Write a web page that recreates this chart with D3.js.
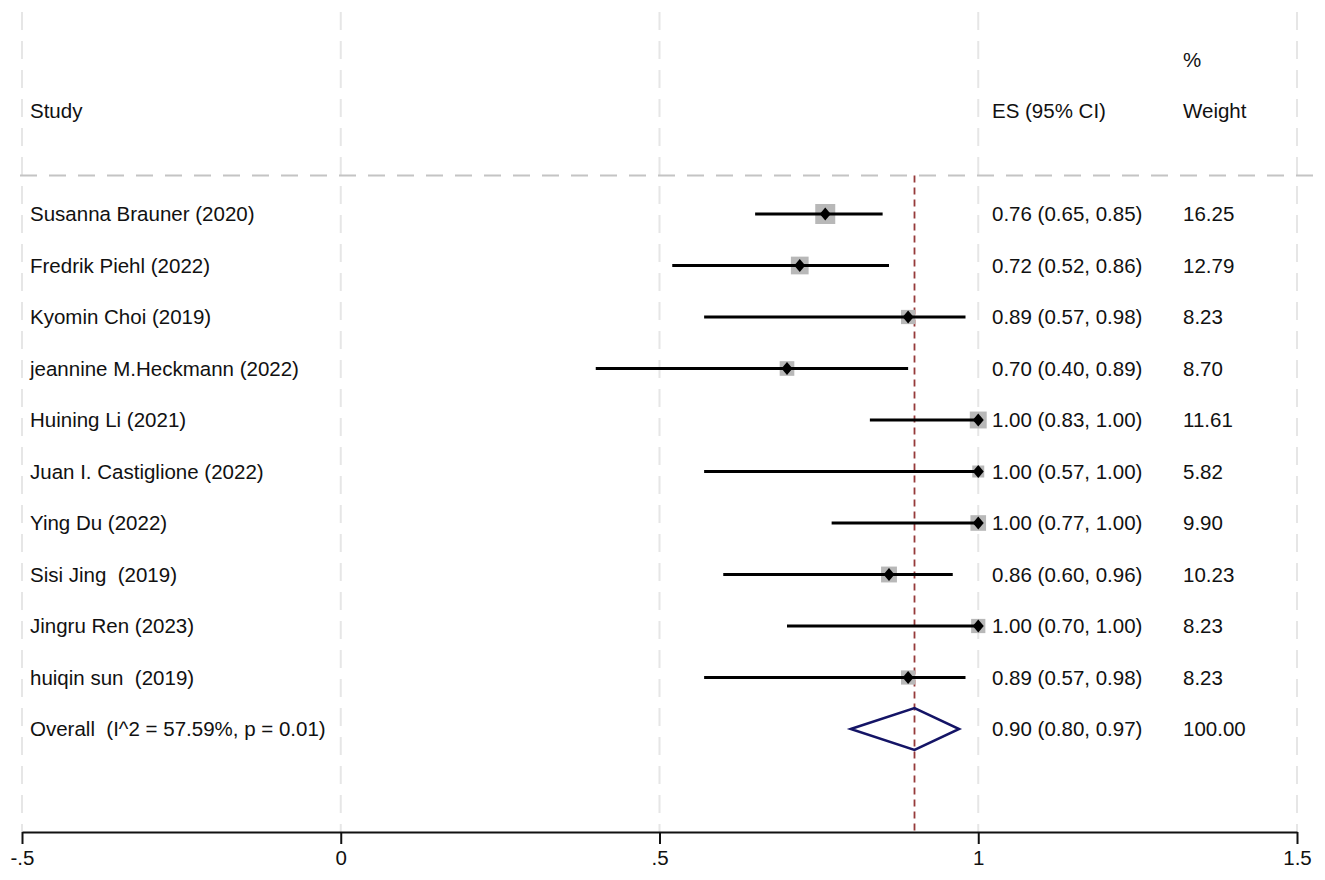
<!DOCTYPE html>
<html>
<head>
<meta charset="utf-8">
<script src="https://cdn.jsdelivr.net/npm/d3@7"></script>
<style>
    body { margin: 0; background: #fff; }
    text { font-family: "Liberation Sans", Arial, sans-serif; fill: #111; white-space: pre; }
</style>
</head>
<body>
<div id="chart"></div>
<script>
var studies = [
    "Susanna Brauner (2020)",
    "Fredrik Piehl (2022)",
    "Kyomin Choi (2019)",
    "jeannine M.Heckmann (2022)",
    "Huining Li (2021)",
    "Juan I. Castiglione (2022)",
    "Ying Du (2022)",
    "Sisi Jing  (2019)",
    "Jingru Ren (2023)",
    "huiqin sun  (2019)"
];
var es = [0.76, 0.72, 0.89, 0.70, 1.00, 1.00, 1.00, 0.86, 1.00, 0.89];
var lower = [0.65, 0.52, 0.57, 0.40, 0.83, 0.57, 0.77, 0.60, 0.70, 0.57];
var upper = [0.85, 0.86, 0.98, 0.89, 1.00, 1.00, 1.00, 0.96, 1.00, 0.98];
var weights = [16.25, 12.79, 8.23, 8.70, 11.61, 5.82, 9.90, 10.23, 8.23, 8.23];

var overallLabel = "Overall  (I^2 = 57.59%, p = 0.01)";
var overall = { es: 0.90, lower: 0.80, upper: 0.97, weight: 100.00 };

var xTicks = [-0.5, 0, 0.5, 1, 1.5];
var xTickLabels = ["-.5", "0", ".5", "1", "1.5"];

var width = 1325,
    height = 880;

var svg = d3.select('#chart')
    .append('svg')
    .attr('width', width)
    .attr('height', height);

var x = d3.scaleLinear()
    .domain([-0.5, 1.5])
    .range([22, 1297]);

// rows: -3 is "%" line, -2 is header, 0..9 studies, 10 overall, 12 is axis
var y = d3.scaleLinear()
    .domain([-4, 12])
    .range([8, 832]);

var sepRow = -0.75;
var fmt = d3.format('.2f');
var fontSize = 20.5;

// vertical gridlines
svg.append('g')
    .selectAll('line')
    .data(xTicks)
    .enter().append('line')
    .attr('x1', function (d) { return x(d); })
    .attr('x2', function (d) { return x(d); })
    .attr('y1', 12)
    .attr('y2', y(12))
    .attr('stroke', '#e6e6e6')
    .attr('stroke-width', 2)
    .attr('stroke-dasharray', '18,11');

// header separator
svg.append('line')
    .attr('x1', 20)
    .attr('x2', width)
    .attr('y1', y(sepRow))
    .attr('y2', y(sepRow))
    .attr('stroke', '#c4c4c4')
    .attr('stroke-width', 2)
    .attr('stroke-dasharray', '17,12');

// overall effect line
svg.append('line')
    .attr('x1', x(overall.es))
    .attr('x2', x(overall.es))
    .attr('y1', y(sepRow))
    .attr('y2', y(12))
    .attr('stroke', '#963a3a')
    .attr('stroke-width', 1.8)
    .attr('stroke-dasharray', '7,5');

// x axis
var xAxis = d3.axisBottom(x)
    .tickValues(xTicks)
    .tickFormat(function (d, i) { return xTickLabels[i]; })
    .tickSize(12)
    .tickSizeOuter(0)
    .tickPadding(6);

var axisG = svg.append('g')
    .attr('transform', 'translate(0,' + y(12) + ')')
    .call(xAxis);
axisG.select('.domain').attr('stroke', '#111').attr('stroke-width', 2);
axisG.selectAll('.tick line').attr('stroke', '#111').attr('stroke-width', 2);
axisG.selectAll('.tick text')
    .style('font-family', '"Liberation Sans", Arial, sans-serif')
    .style('font-size', fontSize + 'px')
    .attr('fill', '#111');

var rows = studies.map(function (s, i) {
    return { study: s, es: es[i], lower: lower[i], upper: upper[i], weight: weights[i], row: i };
});

var boxScale = d3.scaleSqrt()
    .domain([0, d3.max(weights)])
    .range([0, 20]);

var g = svg.append('g');

// weight boxes
g.selectAll('rect.box')
    .data(rows)
    .enter().append('rect')
    .attr('class', 'box')
    .attr('x', function (d) { return x(d.es) - boxScale(d.weight) / 2; })
    .attr('y', function (d) { return y(d.row) - boxScale(d.weight) / 2; })
    .attr('width', function (d) { return boxScale(d.weight); })
    .attr('height', function (d) { return boxScale(d.weight); })
    .attr('fill', '#b8b8b8');

// confidence intervals
g.selectAll('line.ci')
    .data(rows)
    .enter().append('line')
    .attr('class', 'ci')
    .attr('x1', function (d) { return x(d.lower); })
    .attr('x2', function (d) { return x(d.upper); })
    .attr('y1', function (d) { return y(d.row); })
    .attr('y2', function (d) { return y(d.row); })
    .attr('stroke', '#000')
    .attr('stroke-width', 3);

// point estimates
g.selectAll('path.pt')
    .data(rows)
    .enter().append('path')
    .attr('class', 'pt')
    .attr('d', function (d) {
        var cx = x(d.es), cy = y(d.row), w = 5.5, h = 6.5;
        return 'M' + (cx - w) + ',' + cy + 'L' + cx + ',' + (cy - h) + 'L' + (cx + w) + ',' + cy + 'L' + cx + ',' + (cy + h) + 'Z';
    })
    .attr('fill', '#000');

// overall diamond
var oy = y(10);
svg.append('path')
    .attr('d', 'M' + x(overall.lower) + ',' + oy +
        'L' + x(overall.es) + ',' + (oy - 21) +
        'L' + x(overall.upper) + ',' + oy +
        'L' + x(overall.es) + ',' + (oy + 21) + 'Z')
    .attr('fill', 'none')
    .attr('stroke', '#141466')
    .attr('stroke-width', 2.5);

// text columns
var studyX = 30, esX = 992, wX = 1183;

function addText(tx, row, str) {
    svg.append('text')
        .attr('x', tx)
        .attr('y', y(row))
        .attr('dy', '0.36em')
        .attr('xml:space', 'preserve')
        .style('font-size', fontSize + 'px')
        .text(str);
}

addText(wX, -3, '%');
addText(studyX, -2, 'Study');
addText(esX, -2, 'ES (95% CI)');
addText(wX, -2, 'Weight');

rows.forEach(function (d) {
    addText(studyX, d.row, d.study);
    addText(esX, d.row, fmt(d.es) + ' (' + fmt(d.lower) + ', ' + fmt(d.upper) + ')');
    addText(wX, d.row, fmt(d.weight));
});

addText(studyX, 10, overallLabel);
addText(esX, 10, fmt(overall.es) + ' (' + fmt(overall.lower) + ', ' + fmt(overall.upper) + ')');
addText(wX, 10, fmt(overall.weight));
</script>
</body>
</html>
